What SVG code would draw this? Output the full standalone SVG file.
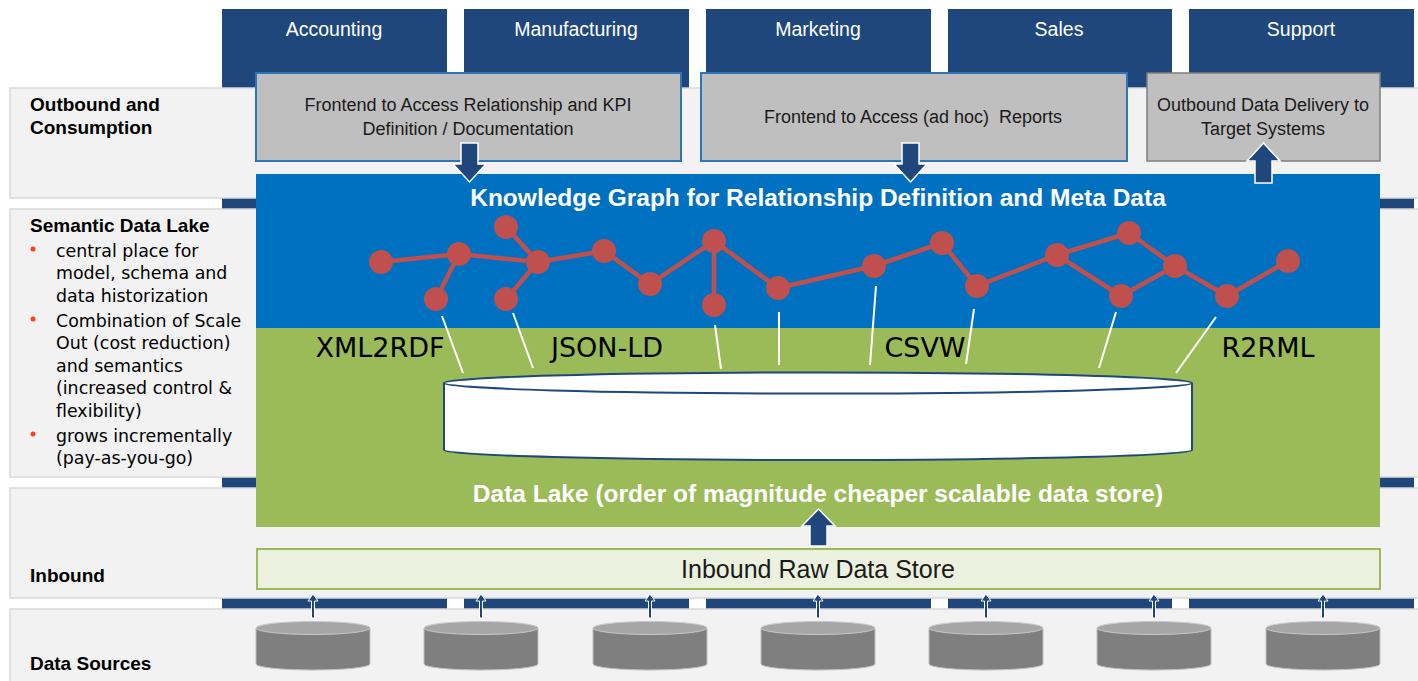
<svg xmlns="http://www.w3.org/2000/svg" width="1418" height="681" viewBox="0 0 1418 681">
<style>
.col{fill:#1f477b}
.coltxt{font-family:"Liberation Sans",Arial,sans-serif;font-size:19.5px;fill:#ffffff;text-anchor:middle}
.band{fill:#f2f2f2;stroke:#d9d9d9;stroke-width:1.5}
.lbl{font-family:"Liberation Sans",Arial,sans-serif;font-size:19px;font-weight:bold;fill:#000000}
.bul{font-family:"DejaVu Sans",sans-serif;font-size:17.4px;fill:#000000}
.dot{fill:#ff3d1f}
.fe{fill:#bfbfbf;stroke:#2e75b6;stroke-width:2}
.fe3{fill:#bfbfbf;stroke:#7f7f7f;stroke-width:1.5}
.fetxt{font-family:"Liberation Sans",Arial,sans-serif;font-size:18px;fill:#1a1a1a;text-anchor:middle}
.title{font-family:"Liberation Sans",Arial,sans-serif;font-size:24.5px;font-weight:bold;fill:#ffffff;text-anchor:middle}
.tech{font-family:"DejaVu Sans",sans-serif;font-size:27px;fill:#000000;text-anchor:middle}
.edge{stroke:#c0504d;stroke-width:4.5;fill:none}
.node{fill:#c0504d}
.wl{stroke:#ffffff;stroke-width:2}
.blk{fill:#1f477b;stroke:#ffffff;stroke-width:1.5}
.sm{fill:#1f477b;stroke:#ffffff;stroke-width:1}
.dsb{fill:#7f7f7f;stroke:#bfbfbf;stroke-width:1}
.dst{fill:#a6a6a6;stroke:#c8c8c8;stroke-width:1}
</style>

<!-- columns -->
<g id="columns">
<rect class="col" x="222" y="9" width="225" height="600"/>
<rect class="col" x="464" y="9" width="225" height="600"/>
<rect class="col" x="706" y="9" width="225" height="600"/>
<rect class="col" x="948" y="9" width="224" height="600"/>
<rect class="col" x="1189" y="9" width="225" height="600"/>
</g>
<g id="col-accounting"><text class="coltxt" x="334" y="36">Accounting</text></g>
<g id="col-manufacturing"><text class="coltxt" x="576" y="36">Manufacturing</text></g>
<g id="col-marketing"><text class="coltxt" x="818" y="36">Marketing</text></g>
<g id="col-sales"><text class="coltxt" x="1059" y="36">Sales</text></g>
<g id="col-support"><text class="coltxt" x="1301" y="36">Support</text></g>

<!-- bands -->
<g id="band-outbound">
<rect class="band" x="10" y="88" width="1420" height="110"/>
<text class="lbl" x="30" y="111">Outbound and</text>
<text class="lbl" x="30" y="134">Consumption</text>
</g>
<g id="band-semantic">
<rect class="band" x="10" y="209" width="1420" height="268"/>
<text class="lbl" x="30" y="232">Semantic Data Lake</text>
<circle class="dot" cx="33" cy="249" r="2.5"/>
<circle class="dot" cx="33" cy="319" r="2.5"/>
<circle class="dot" cx="33" cy="434" r="2.5"/>
<text class="bul" x="56" y="257">central place for</text>
<text class="bul" x="56" y="279">model, schema and</text>
<text class="bul" x="56" y="302">data historization</text>
<text class="bul" x="56" y="327">Combination of Scale</text>
<text class="bul" x="56" y="349">Out (cost reduction)</text>
<text class="bul" x="56" y="372">and semantics</text>
<text class="bul" x="56" y="394">(increased control &amp;</text>
<text class="bul" x="56" y="417">flexibility)</text>
<text class="bul" x="56" y="442">grows incrementally</text>
<text class="bul" x="56" y="464">(pay-as-you-go)</text>
</g>
<g id="band-inbound">
<rect class="band" x="10" y="488" width="1420" height="110"/>
<text class="lbl" x="30" y="582">Inbound</text>
</g>
<g id="band-sources">
<rect class="band" x="10" y="609" width="1420" height="80"/>
<text class="lbl" x="30" y="670">Data Sources</text>
</g>

<!-- frontend boxes -->
<g id="frontend-kpi">
<rect class="fe" x="256" y="73" width="425" height="88"/>
<text class="fetxt" x="468" y="111">Frontend to Access Relationship and KPI</text>
<text class="fetxt" x="468" y="135">Definition / Documentation</text>
</g>
<g id="frontend-reports">
<rect class="fe" x="701" y="73" width="426" height="88"/>
<text class="fetxt" x="913" y="123" xml:space="preserve">Frontend to Access (ad hoc)  Reports</text>
</g>
<g id="outbound-delivery">
<rect class="fe3" x="1147" y="73" width="233" height="88"/>
<text class="fetxt" x="1263" y="111">Outbound Data Delivery to</text>
<text class="fetxt" x="1263" y="135">Target Systems</text>
</g>

<!-- knowledge graph / data lake -->
<g id="knowledge-graph">
<rect x="256" y="174" width="1124" height="155" fill="#0070c0"/>
<text class="title" x="818" y="206">Knowledge Graph for Relationship Definition and Meta Data</text>
</g>
<g id="data-lake">
<rect x="256" y="328" width="1124" height="199" fill="#9bbb59"/>
<text class="title" x="818" y="502">Data Lake (order of magnitude cheaper scalable data store)</text>
</g>
<g id="mappings">
<text class="tech" x="380" y="357">XML2RDF</text>
<text class="tech" x="607" y="357">JSON-LD</text>
<text class="tech" x="925" y="357">CSVW</text>
<text class="tech" x="1268" y="357">R2RML</text>
</g>
<g id="lake-store">
<path d="M444,383 L444,450 A374,10 0 0 0 1192,450 L1192,383" fill="#ffffff" stroke="#1f477b" stroke-width="2"/>
<ellipse cx="818" cy="383" rx="374" ry="10.5" fill="#ffffff" stroke="#1f477b" stroke-width="2"/>
</g>

<g id="graph">
<g class="edge">
<line x1="381" y1="262" x2="459" y2="254"/>
<line x1="459" y1="254" x2="436" y2="299"/>
<line x1="459" y1="254" x2="538" y2="262"/>
<line x1="506" y1="227" x2="538" y2="262"/>
<line x1="538" y1="262" x2="506" y2="299"/>
<line x1="538" y1="262" x2="604" y2="251"/>
<line x1="604" y1="251" x2="650" y2="284"/>
<line x1="650" y1="284" x2="714" y2="241"/>
<line x1="714" y1="241" x2="714" y2="305"/>
<line x1="714" y1="241" x2="778" y2="288"/>
<line x1="778" y1="288" x2="874" y2="266"/>
<line x1="874" y1="266" x2="942" y2="243"/>
<line x1="942" y1="243" x2="977" y2="286"/>
<line x1="977" y1="286" x2="1057" y2="255"/>
<line x1="1057" y1="255" x2="1129" y2="233"/>
<line x1="1057" y1="255" x2="1121" y2="296"/>
<line x1="1129" y1="233" x2="1175" y2="266"/>
<line x1="1121" y1="296" x2="1175" y2="266"/>
<line x1="1175" y1="266" x2="1227" y2="296"/>
<line x1="1227" y1="296" x2="1288" y2="261"/>
</g>
<g class="node">
<circle cx="381" cy="262" r="12"/>
<circle cx="459" cy="254" r="12"/>
<circle cx="436" cy="299" r="12"/>
<circle cx="506" cy="227" r="12"/>
<circle cx="538" cy="262" r="12"/>
<circle cx="506" cy="299" r="12"/>
<circle cx="604" cy="251" r="12"/>
<circle cx="650" cy="284" r="12"/>
<circle cx="714" cy="241" r="12"/>
<circle cx="714" cy="305" r="12"/>
<circle cx="778" cy="288" r="12"/>
<circle cx="874" cy="266" r="12"/>
<circle cx="942" cy="243" r="12"/>
<circle cx="977" cy="286" r="12"/>
<circle cx="1057" cy="255" r="12"/>
<circle cx="1129" cy="233" r="12"/>
<circle cx="1121" cy="296" r="12"/>
<circle cx="1175" cy="266" r="12"/>
<circle cx="1227" cy="296" r="12"/>
<circle cx="1288" cy="261" r="12"/>
</g>
</g>

<g id="inbound-raw">
<rect x="257" y="549" width="1123" height="40" fill="#ebf1de" stroke="#9bbb59" stroke-width="2"/>
<text x="818" y="578" font-family="'Liberation Sans',Arial,sans-serif" font-size="25" fill="#1a1a1a" text-anchor="middle">Inbound Raw Data Store</text>
</g>

<!-- data source cylinders -->
<g id="sources">
<g id="src1"><path class="dsb" d="M256,628 L256,664 A57,6 0 0 0 370,664 L370,628 Z"/><ellipse class="dst" cx="313" cy="628" rx="57" ry="6.5"/></g>
<g id="src2"><path class="dsb" d="M424,628 L424,664 A57,6 0 0 0 538,664 L538,628 Z"/><ellipse class="dst" cx="481" cy="628" rx="57" ry="6.5"/></g>
<g id="src3"><path class="dsb" d="M593,628 L593,664 A57,6 0 0 0 707,664 L707,628 Z"/><ellipse class="dst" cx="650" cy="628" rx="57" ry="6.5"/></g>
<g id="src4"><path class="dsb" d="M761,628 L761,664 A57,6 0 0 0 875,664 L875,628 Z"/><ellipse class="dst" cx="818" cy="628" rx="57" ry="6.5"/></g>
<g id="src5"><path class="dsb" d="M929,628 L929,664 A57,6 0 0 0 1043,664 L1043,628 Z"/><ellipse class="dst" cx="986" cy="628" rx="57" ry="6.5"/></g>
<g id="src6"><path class="dsb" d="M1097,628 L1097,664 A57,6 0 0 0 1211,664 L1211,628 Z"/><ellipse class="dst" cx="1154" cy="628" rx="57" ry="6.5"/></g>
<g id="src7"><path class="dsb" d="M1266,628 L1266,664 A57,6 0 0 0 1380,664 L1380,628 Z"/><ellipse class="dst" cx="1323" cy="628" rx="57" ry="6.5"/></g>
</g>

<!-- connectors -->
<g id="connectors">
<g class="wl">
<line x1="442" y1="316" x2="463" y2="373"/>
<line x1="513" y1="313" x2="533" y2="368"/>
<line x1="715" y1="325" x2="721" y2="369"/>
<line x1="779" y1="312" x2="779" y2="365"/>
<line x1="876" y1="286" x2="870" y2="365"/>
<line x1="974" y1="309" x2="966" y2="364"/>
<line x1="1116" y1="312" x2="1099" y2="368"/>
<line x1="1216" y1="317" x2="1176" y2="373"/>
</g>
<path class="blk" d="M461,143 L478,143 L478,164 L486,164 L469.5,182 L453,164 L461,164 Z"/>
<path class="blk" d="M902,143 L919,143 L919,164 L927,164 L910.5,182 L894,164 L902,164 Z"/>
<path class="blk" d="M1255,183 L1272,183 L1272,161 L1280,161 L1263.5,143 L1247,161 L1255,161 Z"/>
<path class="blk" d="M810,546 L827,546 L827,526 L835,526 L818.5,509 L802,526 L810,526 Z"/>
<path class="sm" d="M311.5,618 L314.5,618 L314.5,601 L318,601 L313,594 L308,601 L311.5,601 Z"/>
<path class="sm" d="M479.5,618 L482.5,618 L482.5,601 L486,601 L481,594 L476,601 L479.5,601 Z"/>
<path class="sm" d="M648.5,618 L651.5,618 L651.5,601 L655,601 L650,594 L645,601 L648.5,601 Z"/>
<path class="sm" d="M816.5,618 L819.5,618 L819.5,601 L823,601 L818,594 L813,601 L816.5,601 Z"/>
<path class="sm" d="M984.5,618 L987.5,618 L987.5,601 L991,601 L986,594 L981,601 L984.5,601 Z"/>
<path class="sm" d="M1152.5,618 L1155.5,618 L1155.5,601 L1159,601 L1154,594 L1149,601 L1152.5,601 Z"/>
<path class="sm" d="M1321.5,618 L1324.5,618 L1324.5,601 L1328,601 L1323,594 L1318,601 L1321.5,601 Z"/>
</g>
</svg>
